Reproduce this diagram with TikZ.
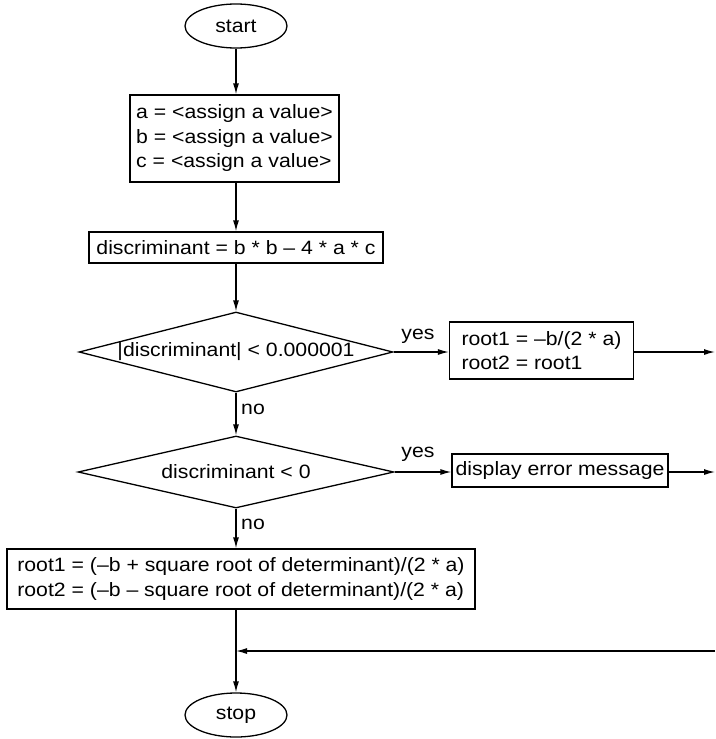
\documentclass[tikz,border=0pt]{standalone}
\usepackage{fontspec}
\setmainfont[FakeStretch=1.1]{Liberation Sans}
\usetikzlibrary{shapes.geometric,arrows.meta}

\begin{document}
\begin{tikzpicture}[x=1pt,y=-1pt,
  every node/.style={font=\fontsize{19.3}{24.5}\selectfont, inner sep=0pt},
  line/.style={line width=1.3pt},
  arr/.style={line, -{Latex[length=11pt,width=6pt]}},
  terminal/.style={draw, line, ellipse, minimum width=102pt, minimum height=44pt},
  stepbox/.style={draw, line, rectangle},
  leftbox/.style={stepbox, align=left},
  test/.style={draw, line, diamond},
  tag/.style={}
]
% page frame
\useasboundingbox (0,0) rectangle (715,739);

% main column
\node[terminal] (start) at (236,26) {start};
\node[leftbox, minimum width=209pt, minimum height=87pt] (init) at (234.5,138.5)
  {a = <assign a value>\\ b = <assign a value>\\ c = <assign a value>};
\node[stepbox, minimum width=294pt, minimum height=31pt] (disc) at (236,247.5)
  {discriminant = b * b – 4 * a * c};
\node[test, aspect=3.925, minimum width=314pt, minimum height=80pt] (zero) at (236,352)
  {|discriminant| < 0.000001};
\node[test, aspect=4.39, minimum width=316pt, minimum height=72pt] (neg) at (236,472)
  {discriminant < 0};
\node[leftbox, minimum width=468pt, minimum height=60pt] (roots) at (241,579)
  {root1 = (–b + square root of determinant)/(2 * a)\\ root2 = (–b – square root of determinant)/(2 * a)};
\node[terminal] (stop) at (236,715) {stop};

% branches to the right
\node[leftbox, inner xsep=12pt, minimum height=57pt] (double) at (541.5,350.5)
  {root1 = –b/(2 * a)\\ root2 = root1};
\node[stepbox, minimum width=216pt, minimum height=33pt] (err) at (560,470.5)
  {display error message};

% branch labels
\node[tag] (yes1) at (418,336) {yes};
\node[tag, anchor=west] (no1) at (241,409) {no};
\node[tag] (yes2) at (418,454) {yes};
\node[tag, anchor=west] (no2) at (241,524) {no};

% free ends at the right margin
\coordinate (edge) at (715,0);
\coordinate (back) at (715,651);

% connectors
\draw[arr] (start.south) -- (start.south |- init.north);
\draw[arr] (disc.north |- init.south) -- (disc.north);
\draw[arr] (disc.south) -- (zero.north);
\draw[arr] (zero.east) -- (zero.east -| double.west);
\draw[arr] (zero.south) -- (neg.north);
\draw[arr] (neg.east) -- (neg.east -| err.west);
\draw[arr] (neg.south) -- (neg.south |- roots.north);
\draw[arr] (double.east |- zero.east) -- (zero.east -| edge);
\draw[arr] (err.east |- neg.east) -- (neg.east -| edge);
\draw[arr] (stop.north |- roots.south) -- (stop.north);
\draw[arr] (back) -- (back -| stop.north);
\end{tikzpicture}
\end{document}
